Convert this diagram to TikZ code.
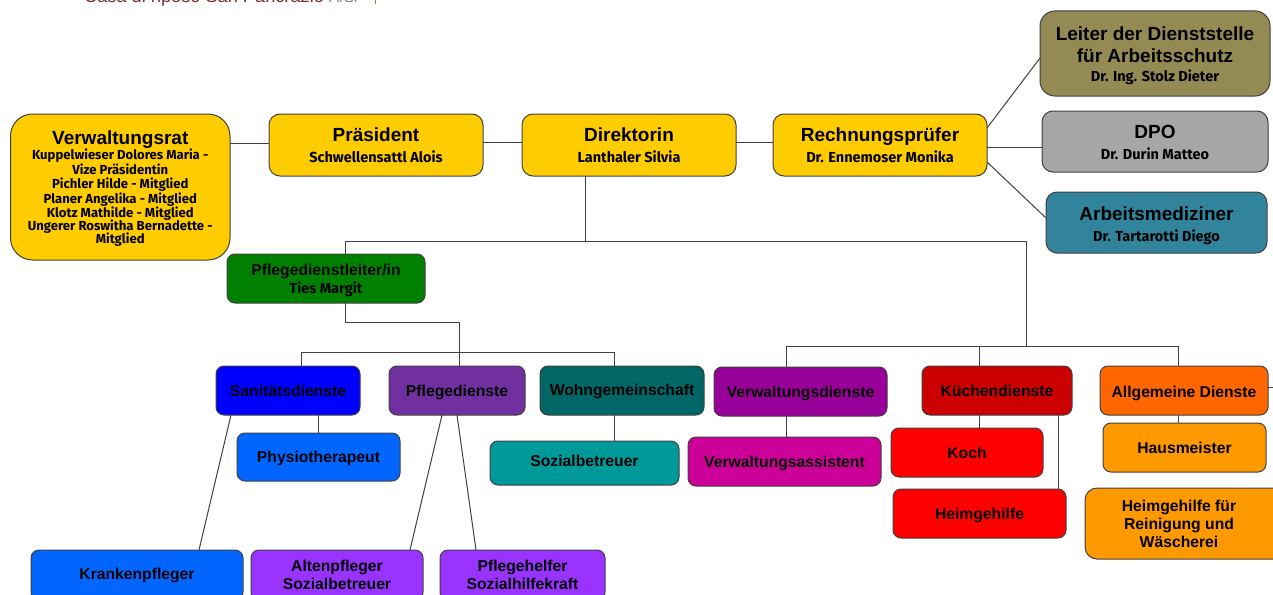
\documentclass[tikz,border=0pt]{standalone}
\usepackage{fontspec}
\setmainfont{Liberation Sans}
\newfontfamily\subfont{Fira Sans}
\definecolor{cyellow}{HTML}{FFCC00}
\definecolor{cgreen}{HTML}{008000}
\definecolor{cblue}{HTML}{0000FF}
\definecolor{cpurple}{HTML}{7030A0}
\definecolor{cdteal}{HTML}{006666}
\definecolor{cviolet}{HTML}{990099}
\definecolor{cdred}{HTML}{CC0000}
\definecolor{corange}{HTML}{FF6600}
\definecolor{camber}{HTML}{FF9900}
\definecolor{cmblue}{HTML}{0066FF}
\definecolor{caqua}{HTML}{009999}
\definecolor{cmagenta}{HTML}{CC0099}
\definecolor{cred}{HTML}{FF0000}
\definecolor{clilac}{HTML}{9933FF}
\definecolor{colive}{HTML}{948A54}
\definecolor{cgrey}{HTML}{A6A6A6}
\definecolor{csteel}{HTML}{31849B}
\definecolor{cline}{HTML}{404040}
\definecolor{ctitle}{HTML}{7A2E2E}
\definecolor{cmark}{HTML}{5FA84F}
\tikzset{
  box/.style={draw=cline,line width=1pt,inner sep=0pt,outer sep=0pt,align=center,text=black,font=\bfseries\fontsize{15.7}{18}\selectfont},
  link/.style={draw=cline,line width=1pt},
}
\newcommand{\bx}[8][8]{%
  \pgfmathsetmacro{\cxx}{(#4+#6)/2}\pgfmathsetmacro{\cyy}{(#5+#7)/2}%
  \pgfmathsetmacro{\www}{#6-#4}\pgfmathsetmacro{\hhh}{#7-#5}%
  \node[box,fill=#3,rounded corners=#1pt,minimum width=\www pt,minimum height=\hhh pt] (#2) at (\cxx,\cyy) {#8};}
\newcommand{\hd}[1]{{\fontsize{19}{22}\selectfont #1}}
\newcommand{\nm}[1]{{\subfont\fontsize{14.5}{16}\selectfont #1}}
\newcommand{\dn}[2]{\raisebox{-#1pt}[\height][\depth]{#2}}
\newcommand{\rl}[1]{\dn{2}{\subfont\fontsize{13.1}{14}\selectfont #1}}
\begin{document}
\begin{tikzpicture}[x=1pt,y=-1pt]
\useasboundingbox (0,0) rectangle (1273,594);
\clip (0,0) rectangle (1273,594);
\node[anchor=base west,inner sep=0pt,text=ctitle,font=\fontsize{18.2}{20}\selectfont] (title) at (84,3) {Casa di riposo San Pancrazio};
\node[anchor=base west,inner sep=0pt,text=gray,font=\fontsize{15}{18}\selectfont] (title2) at (329,3) {ArSr};
\fill[cmark] (374.5,0) rectangle (376,4);
% boxes
\bx[22]{rat}{cyellow}{10.5}{114}{230}{260}{\dn{1}{\hd{Verwaltungsrat}}\\[-3.5pt]\rl{Kuppelwieser Dolores Maria -}\\[-3.5pt]\rl{Vize Präsidentin}\\[-3.5pt]\rl{Pichler Hilde - Mitglied}\\[-3.5pt]\rl{Planer Angelika - Mitglied}\\[-3.5pt]\rl{Klotz Mathilde - Mitglied}\\[-5pt]\rl{Ungerer Roswitha Bernadette -}\\[-5pt]\rl{Mitglied}}
\bx[11]{pres}{cyellow}{269}{114}{483}{176}{\hd{Präsident}\\[3pt]\nm{Schwellensattl Alois}}
\bx[11]{dir}{cyellow}{522}{114}{736}{176}{\hd{Direktorin}\\[3pt]\nm{Lanthaler Silvia}}
\bx[11]{rech}{cyellow}{773}{114}{987}{176}{\hd{Rechnungsprüfer}\\[3pt]\nm{Dr. Ennemoser Monika}}
\bx[15]{leit}{colive}{1040}{11}{1270}{96}{\dn{3}{\hd{Leiter der Dienststelle}}\\[4pt]\dn{3}{\hd{für Arbeitsschutz}}\\[2pt]\dn{2}{\nm{Dr. Ing. Stolz Dieter}}}
\bx[11]{dpo}{cgrey}{1042}{111}{1268}{172}{\dn{1}{\hd{DPO}}\\[3pt]\dn{1}{\nm{Dr. Durin Matteo}}}
\bx[11]{arzt}{csteel}{1046}{192}{1267}{253}{\dn{3}{\hd{Arbeitsmediziner}}\\[3pt]\dn{3}{\nm{Dr. Tartarotti Diego}}}
\bx{pdl}{cgreen}{227}{254}{425}{303}{\dn{3}{Pflegedienstleiter/in}\\[2pt]\dn{1}{\nm{Ties Margit}}}
\bx{san}{cblue}{216}{366}{360}{415}{Sanitätsdienste}
\bx{pfl}{cpurple}{389}{366}{525}{415}{\dn{2}{Pflegedienste}}
\bx{wohn}{cdteal}{540}{366}{704}{415}{\dn{1}{Wohngemeinschaft}}
\bx{verw}{cviolet}{714}{367}{887}{416}{\dn{2}{Verwaltungsdienste}}
\bx{kue}{cdred}{922}{366}{1072}{415}{Küchendienste}
\bx{allg}{corange}{1100}{366}{1268}{415}{\dn{2.5}{Allgemeine Dienste}}
\bx{phys}{cmblue}{237}{433}{400}{481}{\dn{1.5}{Physiotherapeut}}
\bx{krank}{cmblue}{31}{550}{243}{600}{Krankenpfleger}
\bx{soz}{caqua}{490}{441}{679}{485}{\dn{-2.5}{Sozialbetreuer}}
\bx{vass}{cmagenta}{688}{437}{881}{486}{\dn{2}{Verwaltungsassistent}}
\bx{koch}{cred}{891}{428}{1043}{477}{Koch}
\bx{hh}{cred}{893}{489}{1066}{538}{\dn{2}{Heimgehilfe}}
\bx{haus}{camber}{1103}{423}{1266}{472}{Hausmeister}
\bx[12]{hhr}{camber}{1085}{488}{1290}{559}{\hspace*{-17pt}Heimgehilfe für\\\hspace*{-17pt}Reinigung und\\\hspace*{-17pt}Wäscherei}
\bx{alt}{clilac}{251}{550}{423}{600}{Altenpfleger\\Sozialbetreuer}
\bx{pfh}{clilac}{440}{550}{605}{600}{Pflegehelfer\\Sozialhilfekraft}
% junctions
\coordinate (dirS) at (585,176);
\coordinate (t1) at (585,241);
\coordinate (t1L) at (345,241);
\coordinate (t1R) at (1026,241);
\coordinate (pdlS) at (345,303);
\coordinate (t2) at (345,322);
\coordinate (t2R) at (459,322);
\coordinate (t3L) at (301,352);
\coordinate (t3R) at (614,352);
\coordinate (t4) at (1026,346);
\coordinate (t4L) at (786,346);
\coordinate (t4R) at (1178,346);
\coordinate (kueD) at (979,346);
\coordinate (hhS) at (1058,415);
\coordinate (stub) at (1273,387);
\coordinate (sanA) at (231,415);
\coordinate (kra) at (199,550);
\coordinate (pflA) at (442,415);
\coordinate (pflB) at (457,415);
\coordinate (altT) at (410,550);
\coordinate (pfhT) at (476,550);
\coordinate (rA) at (987,128);
\coordinate (rB) at (987,147);
\coordinate (rC) at (987,162);
\coordinate (lT) at (1040,58);
\coordinate (aT) at (1046,218);
\coordinate (h1) at (0,143);
\coordinate (h2) at (0,142);
% connectors
\draw[link] (rat.east |- h1) -- (pres.west |- h1);
\draw[link] (pres.east |- h2) -- (dir.west |- h2);
\draw[link] (dir.east |- h2) -- (rech.west |- h2);
\draw[link] (rA) -- (lT);
\draw[link] (rB) -- (dpo.west |- rB);
\draw[link] (rC) -- (aT);
\draw[link] (dirS) -- (t1);
\draw[link] (pdl.north -| t1L) -- (t1L) -- (t1R) -- (t4);
\draw[link] (pdlS) -- (t2) -- (t2R) -- (pfl.north -| t2R);
\draw[link] (san.north -| t3L) -- (t3L) -- (t3R) -- (wohn.north -| t3R);
\draw[link] (verw.north -| t4L) -- (t4L) -- (t4R) -- (allg.north -| t4R);
\draw[link] (kueD) -- (kue.north -| kueD);
\draw[link] (sanA) -- (kra);
\draw[link] (san.south -| phys.north) -- (phys.north);
\draw[link] (pflA) -- (altT);
\draw[link] (pflB) -- (pfhT);
\draw[link] (wohn.south -| t3R) -- (soz.north -| t3R);
\draw[link] (verw.south -| t4L) -- (vass.north -| t4L);
\draw[link] (kue.south -| kueD) -- (koch.north -| kueD);
\draw[link] (hhS) -- (hh.north -| hhS);
\draw[link] (allg.south -| t4R) -- (haus.north -| t4R);
\draw[link] (allg.east |- stub) -- (stub);
\end{tikzpicture}
\end{document}
